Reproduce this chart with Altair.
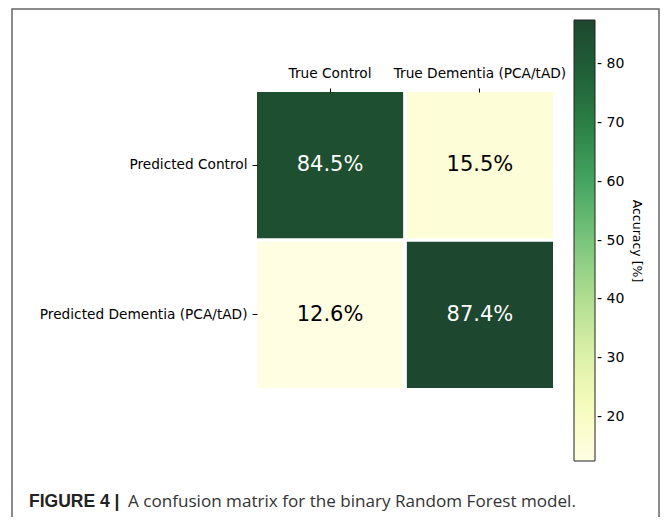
import altair as alt
import pandas as pd

true_labels = ["True Control", "True Dementia (PCA/tAD)"]
pred_labels = ["Predicted Control", "Predicted Dementia (PCA/tAD)"]
accuracy = [[84.5, 15.5], [12.6, 87.4]]  # rows: predicted, cols: true
color_ticks = [20, 30, 40, 50, 60, 70, 80]
cmap_colors = ["#fffee3", "#f7fcbb", "#d9f0a5", "#aedd90", "#7ac57c",
               "#47a862", "#2d8447", "#1f6138", "#1d472e"]
caption_bold = "FIGURE 4 |"
caption_text = "A confusion matrix for the binary Random Forest model."

rows = []
for i, p in enumerate(pred_labels):
    for j, t in enumerate(true_labels):
        rows.append({"pred": p, "true": t, "acc": accuracy[i][j]})
df = pd.DataFrame(rows)
vmin = min(min(r) for r in accuracy)
vmax = max(max(r) for r in accuracy)

W, H = 296, 296
PL, PT = 249, 84
PR = 653 - PL - W
PB = 509 - PT - H

font = "DejaVu Sans"

x_enc = alt.X("true:N", sort=true_labels, title=None,
              scale=alt.Scale(paddingInner=0.025, paddingOuter=0),
              axis=alt.Axis(orient="top", labelAngle=0, domain=False, tickSize=4,
                            tickColor="#000", labelFont=font, labelFontSize=13.7,
                            labelColor="#000", labelPadding=8))
y_enc = alt.Y("pred:N", sort=pred_labels, title=None,
              scale=alt.Scale(paddingInner=0.025, paddingOuter=0),
              axis=alt.Axis(domain=False, tickSize=5, tickColor="#000",
                            labelFont=font, labelFontSize=13.7, labelColor="#000",
                            labelPadding=5, labelLimit=400))

heat = alt.Chart(df).mark_rect().encode(
    x=x_enc, y=y_enc,
    color=alt.Color("acc:Q",
                    scale=alt.Scale(range=cmap_colors, domain=[vmin, vmax],
                                    interpolate="rgb"),
                    legend=alt.Legend(
                        title="Accuracy [%]", orient="none", legendX=317, legendY=-72,
                        direction="vertical", gradientLength=441, gradientThickness=21,
                        gradientStrokeColor="#222", gradientStrokeWidth=1,
                        values=color_ticks, labelExpr="'- ' + datum.label",
                        labelFont=font, labelFontSize=14, labelColor="#000",
                        labelOffset=2, titleOrient="right", titleFont=font,
                        titleFontSize=12.5, titleFontWeight="normal", titleColor="#000",
                        titleAnchor="middle", titlePadding=6)),
)

labels = alt.Chart(df).transform_calculate(
    acc_txt="format(datum.acc, '.1f') + '%'"
).mark_text(font=font, fontSize=21).encode(
    x=alt.X("true:N", sort=true_labels),
    y=alt.Y("pred:N", sort=pred_labels),
    text="acc_txt:N",
    color=alt.condition("datum.acc > 50", alt.value("#ffffff"), alt.value("#000000")),
)

one = pd.DataFrame({"k": [0]})
frame = alt.Chart(one).mark_rect(fill=None, stroke="#666", strokeWidth=1.5).encode(
    x=alt.value(-245), x2=alt.value(402), y=alt.value(-83), y2=alt.value(460))

cap1 = alt.Chart(one).mark_text(align="left", baseline="alphabetic",
                                font="Liberation Sans", fontSize=17.5, fontWeight="bold",
                                color="#222").encode(
    x=alt.value(-228), y=alt.value(415), text=alt.value(caption_bold))
cap2 = alt.Chart(one).mark_text(align="left", baseline="alphabetic",
                                font="Open Sans", fontSize=17.1,
                                color="#333").encode(
    x=alt.value(-129), y=alt.value(415), text=alt.value(caption_text))

chart = alt.layer(frame, heat, labels, cap1, cap2).properties(
    width=W, height=H,
    autosize=alt.AutoSizeParams(type="none"),
    padding={"left": PL, "top": PT, "right": PR, "bottom": PB},
).configure_view(stroke=None)

chart.save("out.html", embed_options={"renderer": "svg", "actions": False})
